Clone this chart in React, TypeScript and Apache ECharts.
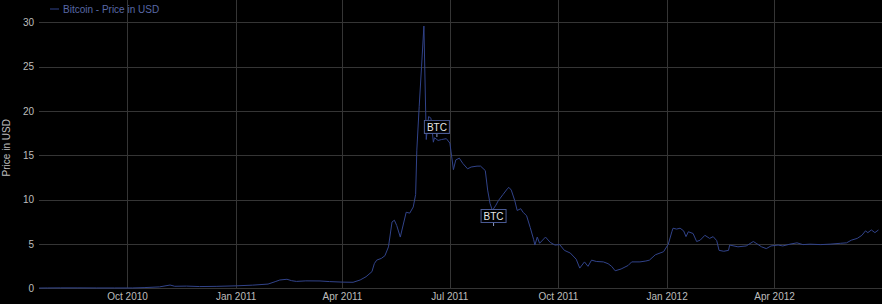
import React, { useEffect, useRef } from "react";
import * as echarts from "echarts";

// ---- data ----
const SERIES_NAME = "Bitcoin - Price in USD";
const Y_AXIS_NAME = "Price in USD";
const X_MIN = "2010-07-18";
const X_MAX = "2012-07-01";
const MONTH_NAMES = ["Jan", "Feb", "Mar", "Apr", "May", "Jun", "Jul", "Aug", "Sep", "Oct", "Nov", "Dec"];
const X_TICKS = ["2010-10-01", "2011-01-01", "2011-04-01", "2011-07-01", "2011-10-01", "2012-01-01", "2012-04-01"];
const Y_TICKS = [0, 5, 10, 15, 20, 25, 30];

const dates = [
  "2010-07-18", "2010-07-25", "2010-08-05", "2010-08-20", "2010-09-05", "2010-09-20",
  "2010-10-05", "2010-10-15", "2010-10-28", "2010-11-06", "2010-11-10", "2010-11-20",
  "2010-12-01", "2010-12-15", "2011-01-01", "2011-01-15", "2011-01-28", "2011-02-03",
  "2011-02-07", "2011-02-13", "2011-02-17", "2011-02-21", "2011-03-01", "2011-03-13",
  "2011-03-21", "2011-04-01", "2011-04-10", "2011-04-16", "2011-04-21", "2011-04-26",
  "2011-04-28", "2011-04-30", "2011-05-04", "2011-05-07", "2011-05-10", "2011-05-13",
  "2011-05-15", "2011-05-17", "2011-05-20", "2011-05-25", "2011-05-28", "2011-05-31",
  "2011-06-02", "2011-06-03", "2011-06-05", "2011-06-07", "2011-06-09", "2011-06-11",
  "2011-06-13", "2011-06-15", "2011-06-17", "2011-06-18", "2011-06-21", "2011-06-24",
  "2011-06-28", "2011-07-01", "2011-07-02", "2011-07-04", "2011-07-06", "2011-07-09",
  "2011-07-12", "2011-07-16", "2011-07-19", "2011-07-24", "2011-07-27", "2011-07-31",
  "2011-08-02", "2011-08-04", "2011-08-06", "2011-08-09", "2011-08-11", "2011-08-15",
  "2011-08-19", "2011-08-20", "2011-08-22", "2011-08-25", "2011-08-27", "2011-08-30",
  "2011-09-01", "2011-09-04", "2011-09-07", "2011-09-10", "2011-09-11", "2011-09-13",
  "2011-09-15", "2011-09-20", "2011-09-24", "2011-09-28", "2011-10-02", "2011-10-06",
  "2011-10-11", "2011-10-16", "2011-10-19", "2011-10-23", "2011-10-26", "2011-10-29",
  "2011-11-02", "2011-11-08", "2011-11-12", "2011-11-15", "2011-11-18", "2011-11-23",
  "2011-11-29", "2011-12-02", "2011-12-09", "2011-12-14", "2011-12-17", "2011-12-22",
  "2011-12-29", "2012-01-02", "2012-01-05", "2012-01-06", "2012-01-09", "2012-01-12",
  "2012-01-15", "2012-01-17", "2012-01-19", "2012-01-23", "2012-01-26", "2012-01-29",
  "2012-02-02", "2012-02-06", "2012-02-09", "2012-02-12", "2012-02-14", "2012-02-18",
  "2012-02-22", "2012-02-23", "2012-03-01", "2012-03-08", "2012-03-14", "2012-03-17",
  "2012-03-21", "2012-03-25", "2012-03-29", "2012-04-04", "2012-04-08", "2012-04-14",
  "2012-04-20", "2012-04-25", "2012-05-01", "2012-05-10", "2012-05-18", "2012-05-27",
  "2012-06-01", "2012-06-05", "2012-06-10", "2012-06-14", "2012-06-17", "2012-06-19",
  "2012-06-22", "2012-06-25", "2012-06-28",
];

const prices = [
  0.05, 0.06, 0.07, 0.07, 0.06, 0.06,
  0.06, 0.1, 0.18, 0.39, 0.25, 0.27,
  0.22, 0.24, 0.3, 0.38, 0.5, 0.77,
  0.96, 1.04, 0.88, 0.8, 0.86, 0.85,
  0.78, 0.72, 0.7, 0.96, 1.33, 1.9,
  2.8, 3.2, 3.4, 3.7, 4.7, 7.5,
  7.7, 7.1, 5.8, 8.6, 8.5, 9.2,
  10.6, 15.6, 20.5, 25.0, 29.6, 16.8,
  19.4, 19.2, 16.5, 17.0, 16.7, 16.8,
  16.9, 16.4, 15.4, 13.4, 14.5, 14.7,
  14.1, 13.5, 13.7, 13.8, 13.8, 13.3,
  11.1, 9.6, 8.8, 9.4, 9.9, 10.6,
  11.3, 11.4, 11.1, 9.9, 8.8, 9.0,
  8.6, 8.2, 6.9, 5.5, 4.9, 5.8,
  5.1, 5.8, 5.2, 4.9, 4.95, 4.3,
  4.0, 3.3, 2.3, 3.0, 2.5, 3.2,
  3.05, 3.0, 2.8, 2.5, 2.0, 2.2,
  2.6, 3.0, 3.0, 3.1, 3.2, 3.8,
  4.15, 5.0, 6.4, 6.8, 6.7, 6.8,
  6.5, 5.85, 6.4, 6.2, 5.3, 5.45,
  6.0, 5.65, 5.85, 5.4, 4.3, 4.2,
  4.3, 4.9, 4.7, 4.8, 5.3, 5.05,
  4.7, 4.5, 4.8, 4.9, 4.8, 5.0,
  5.15, 4.95, 5.0, 4.95, 5.0, 5.1,
  5.15, 5.45, 5.65, 6.0, 6.5, 6.3,
  6.6, 6.3, 6.6,
];

const annotationDates = ["2011-06-20", "2011-08-07"];
const annotationValues = [17.1, 7.05];
const annotationTexts = ["BTC", "BTC"];

// ---- styles ----
const FONT = "'Liberation Sans', Arial, sans-serif";
const LINE_COLOR = "#31438a";
const LEGEND_COLOR = "#5868a6";
const TEXT_COLOR = "#bdbdbd";
const GRID_COLOR = "#353535";

function parseDate(s: string): number {
  const [y, m, d] = s.split("-").map(Number);
  return new Date(y, m - 1, d).getTime();
}

export default function App() {
  const ref = useRef<HTMLDivElement>(null);

  useEffect(() => {
    document.body.style.margin = "0";
    document.body.style.background = "#000";
    if (!ref.current) return;
    const chart = echarts.init(ref.current, null, { renderer: "svg" });

    const seriesData = dates.map((d, i) => [parseDate(d), prices[i]]);
    const markData = annotationDates.map((d, i) => ({
      coord: [parseDate(d), annotationValues[i]],
      value: annotationTexts[i],
    }));
    const tickValues = X_TICKS.map(parseDate);

    chart.setOption({
      animation: false,
      backgroundColor: "#000",
      textStyle: { fontFamily: FONT },
      legend: {
        data: [SERIES_NAME],
        left: 50,
        top: 4,
        icon: "rect",
        itemWidth: 9,
        itemHeight: 1,
        itemGap: 4,
        padding: 0,
        textStyle: { color: LEGEND_COLOR, fontSize: 10, fontFamily: FONT, padding: [0, 0, 0, -1] },
      },
      grid: { left: 39, right: 0, top: -1, bottom: 15.5, outerBoundsMode: "none" },
      xAxis: {
        type: "value",
        min: parseDate(X_MIN),
        max: parseDate(X_MAX),
        axisLine: { show: false },
        axisTick: { show: false, customValues: tickValues },
        axisLabel: {
          customValues: tickValues,
          color: TEXT_COLOR,
          fontSize: 10,
          fontFamily: FONT,
          margin: 3,
          formatter: (v: number) => {
            const d = new Date(v);
            return `${MONTH_NAMES[d.getMonth()]} ${d.getFullYear()}`;
          },
        },
        splitLine: { show: true, lineStyle: { color: GRID_COLOR, width: 1 } },
      },
      yAxis: {
        type: "value",
        min: 0,
        max: 32.65,
        interval: 5,
        name: Y_AXIS_NAME,
        nameLocation: "middle",
        nameGap: 26,
        nameTextStyle: { color: TEXT_COLOR, fontSize: 10, fontFamily: FONT, padding: [0, 8, 0, 0] },
        axisLine: { show: false },
        axisTick: { show: false },
        axisLabel: {
          color: TEXT_COLOR,
          fontSize: 10,
          fontFamily: FONT,
          margin: 5,
          showMaxLabel: false,
          formatter: (v: number) => (Y_TICKS.includes(v) ? String(v) : ""),
        },
        splitLine: { show: true, lineStyle: { color: GRID_COLOR, width: 1 } },
      },
      series: [
        {
          name: SERIES_NAME,
          type: "line",
          data: seriesData,
          showSymbol: false,
          symbol: "none",
          lineStyle: { color: LINE_COLOR, width: 1 },
          itemStyle: { color: LINE_COLOR },
          markPoint: {
            symbol: "rect",
            symbolSize: [1, 4],
            symbolOffset: [0, -2],
            itemStyle: { color: "#8a96c0" },
            label: {
              show: true,
              position: "top",
              distance: 0,
              formatter: (p: any) => p.value,
              color: "#e6e6e6",
              backgroundColor: "#000",
              borderColor: "#4a5a94",
              borderWidth: 1,
              padding: [1, 2, 0, 2],
              fontSize: 10,
              lineHeight: 11,
              fontFamily: FONT,
            },
            data: markData,
          },
        },
      ],
    });

    return () => chart.dispose();
  }, []);

  return (
    <div
      ref={ref}
      style={{ position: "absolute", left: 0, top: 0, width: 882, height: 304 }}
    />
  );
}
